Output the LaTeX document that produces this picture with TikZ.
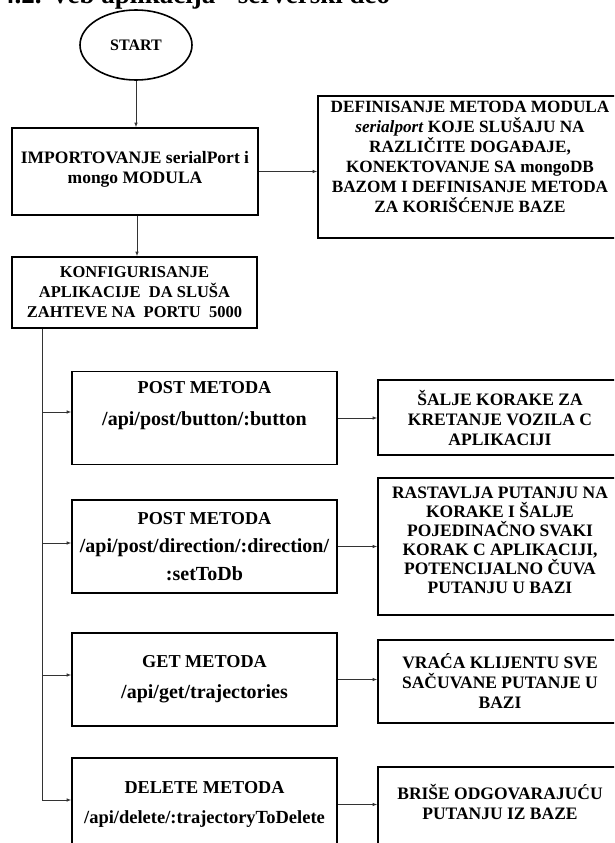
\documentclass[tikz,border=0pt]{standalone}
\usepackage{fontspec}
\setmainfont{Liberation Serif}
\usepackage{tikz}
\usetikzlibrary{
  arrows.meta,
  positioning,
  calc,
  shapes.geometric
}
\definecolor{linecolor}{HTML}{333333}
\newcommand{\mhead}[1]{{\fontsize{18.2}{20}\selectfont #1}}
\newcommand{\mpath}[1]{{\fontsize{20}{20}\selectfont #1}}

\begin{document}
\begin{tikzpicture}[x=1pt, y=-1pt,
  box/.style={draw, line width=1.6pt, align=center, inner sep=2pt,
              font=\fontsize{17.5}{20}\selectfont\bfseries},
  stepbox/.style={box, minimum width=246pt},
  mbox/.style={box, minimum width=265pt, minimum height=93pt},
  rbox/.style={box, minimum width=244pt},
  conn/.style={-{Latex[length=4.5pt,width=3.5pt]}, line width=0.8pt, linecolor},
  trunkline/.style={line width=0.8pt, linecolor},
]
  \useasboundingbox (0,0) rectangle (614,843);
  \clip (0,0) rectangle (614,843);

  % Heading (cut by the page top)
  \node[anchor=base west, inner sep=0, font=\fontsize{27}{30}\selectfont\bfseries]
    (title) at (1,4) {4.2. Veb aplikacija - serverski deo};

  % Start and setup
  \node[ellipse, draw, line width=1.6pt, minimum width=112pt, minimum height=70pt,
        inner sep=0, font=\fontsize{16}{18}\selectfont\bfseries]
    (start) at (136,45) {START};
  \node[stepbox, minimum height=87pt] (import) at (135,171.5)
    {IMPORTOVANJE serialPort i\\mongo MODULA\\[-12pt]~};
  \node[rbox, minimum width=304pt, minimum height=142pt,
        font=\fontsize{17.2}{20}\selectfont\bfseries] (modules) at (470,167)
    {DEFINISANJE METODA MODULA\\\textit{serialport} KOJE SLUŠAJU NA\\
     RAZLIČITE DOGAĐAJE,\\KONEKTOVANJE SA mongoDB\\
     BAZOM I DEFINISANJE METODA\\ZA KORIŠĆENJE BAZE\\~};
  \node[stepbox, minimum width=245pt, minimum height=71pt,
        font=\fontsize{16.5}{20}\selectfont\bfseries] (konfig) at (134.5,292.5)
    {KONFIGURISANJE\\APLIKACIJE\ \ DA SLUŠA\\ZAHTEVE NA\ \ PORTU\ \ 5000};

  \draw[conn] (start.south) -- (start.south |- import.north);
  \draw[conn] (import.east) -- (import.east -| modules.west);
  \draw[conn] ([xshift=2pt]import.south) -- ([xshift=2pt]import.south |- konfig.north);

  % Routes
  \node[mbox] (post1) at (204.5,418)
    {\mhead{POST METODA}\\[12pt]\mpath{/api/post/button/:button}\\[10pt]~};
  \node[mbox] (post2) at (204.5,546.5)
    {\mhead{POST METODA}\\[8pt]\mpath{/api/post/direction/:direction/}\\[8pt]\mpath{:setToDb}};
  \node[mbox] (get) at (204.5,679.5)
    {\mhead{GET METODA}\\[11pt]\mpath{/api/get/trajectories}};
  \node[mbox] (del) at (204.5,804.5)
    {\mhead{DELETE METODA}\\[10pt]{\fontsize{18.5}{20}\selectfont /api/delete/:trajectoryToDelete}};

  % What each route does
  \node[rbox, minimum height=75pt] (salje) at (500,417.5)
    {ŠALJE KORAKE ZA\\KRETANJE VOZILA C\\APLIKACIJI};
  \node[rbox, minimum height=137pt] (rastav) at (500,546.5)
    {RASTAVLJA PUTANJU NA\\[-1pt]KORAKE I ŠALJE\\[-1pt]POJEDINAČNO SVAKI\\[-1pt]
     KORAK C APLIKACIJI,\\[-1pt]POTENCIJALNO ČUVA\\[-1pt]PUTANJU U BAZI\\[-7pt]~};
  \node[rbox, minimum height=83pt] (vraca) at (500,681.5)
    {VRAĆA KLIJENTU SVE\\SAČUVANE PUTANJE U\\BAZI};
  \node[rbox, minimum height=90pt] (brise) at (500,812)
    {BRIŠE ODGOVARAJUĆU\\PUTANJU IZ BAZE\\~};

  % Trunk from the server config down to the routes
  \coordinate (trunk) at ($(konfig.south west)+(31,0)$);
  \foreach \m/\dy in {post1/-6, post2/-3.5, get/-4.5, del/-4.5}
    \coordinate (\m-in) at ($(\m.west)+(0,\dy)$);
  \draw[trunkline] (trunk) -- (trunk |- del-in);
  \foreach \m in {post1, post2, get, del}
    \draw[conn] (trunk |- \m-in) -- (\m-in);

  \draw[conn] (post1.east) -- (post1.east -| salje.west);
  \draw[conn] (post2.east) -- (post2.east -| rastav.west);
  \draw[conn] (get.east) -- (get.east -| vraca.west);
  \draw[conn] (del.east) -- (del.east -| brise.west);

\end{tikzpicture}
\end{document}
